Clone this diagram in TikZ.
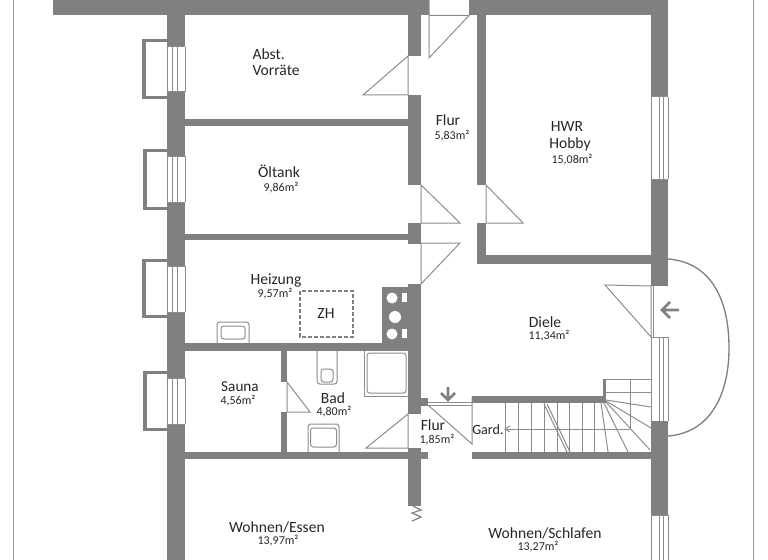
\documentclass[tikz,border=0pt]{standalone}
\usepackage{fontspec}
\setmainfont{Carlito}
\definecolor{wallgray}{HTML}{808080}
\definecolor{linegray}{HTML}{8C8C8C}
\definecolor{framered}{HTML}{C98A8A}
\tikzset{every picture/.style={line width=0.75pt}}
\tikzset{
  wall/.style={fill=wallgray,draw=none},
  thin line/.style={draw=linegray,line width=0.75pt},
  dark line/.style={draw=wallgray,line width=1.6pt},
  room name/.style={font=\fontsize{11.7}{13}\selectfont,text=black!85,inner sep=0pt},
  room area/.style={font=\fontsize{9}{10}\selectfont,text=black!85,inner sep=0pt},
}

\begin{document}
\begin{tikzpicture}[x=0.75pt,y=0.75pt,yscale=-1,xscale=1]
\useasboundingbox (0,0) rectangle (768,560);

%Frame lines
\draw [framered,line width=1pt] (13.5,0) -- (13.5,560) ;
\draw [framered,line width=1pt] (753.5,0) -- (753.5,560) ;

%Shape: outer walls
\fill [wall] (53,0) rectangle (429,15.5) ;
\fill [wall] (469,0) rectangle (668,15.5) ;
\fill [wall] (167,15) rectangle (185,47) ;
\fill [wall] (167,92) rectangle (185,156) ;
\fill [wall] (167,202) rectangle (185,266) ;
\fill [wall] (167,312) rectangle (185,378) ;
\fill [wall] (167,424) rectangle (185,560) ;
\fill [wall] (651,0) rectangle (668,97) ;
\fill [wall] (651,179) rectangle (668,286) ;
\fill [wall] (651,421) rectangle (668,515) ;

%Shape: partitions
\fill [wall] (185,119) rectangle (408,126) ;
\fill [wall] (185,234) rectangle (408,240) ;
\fill [wall] (185,343) rectangle (408,351) ;
\fill [wall] (185,452) rectangle (408,459) ;
\fill [wall] (281,351) rectangle (287,382) ;
\fill [wall] (281,412) rectangle (287,452) ;

%Shape: corridor wall
\fill [wall] (408,15) rectangle (421,56) ;
\fill [wall] (408,95) rectangle (421,185) ;
\fill [wall] (408,223) rectangle (421,244) ;
\fill [wall] (408,284) rectangle (421,414) ;
\fill [wall] (421,398) rectangle (428,406) ;
\fill [wall] (408,448) rectangle (421,506) ;
\fill [wall] (421,452) rectangle (428,459) ;
\draw [dark line,line width=0.9pt] (412,521) -- (421,517) -- (412,513) -- (421,510) -- (413,506) ;

%Shape: HWR walls
\fill [wall] (477,15) rectangle (486,185) ;
\fill [wall] (477,223) rectangle (486,264) ;
\fill [wall] (477,254.5) rectangle (651,264) ;

%Shape: stair walls
\fill [wall] (472,396) rectangle (603,403) ;
\fill [wall] (603,379) rectangle (606,403) ;
\fill [wall] (472,452) rectangle (651,459) ;

%Shape: chimney
\fill [wall] (382,287) rectangle (408,343) ;
\fill [white] (392,298) circle (5.5) ;
\fill [white] (395,317) circle (6) ;
\fill [white] (392,334) circle (5.5) ;
\fill [white] (402,293) rectangle (407,302) ;
\fill [white] (402,329) rectangle (407,338) ;

%Shape: windows left
\draw [dark line,line width=2.6pt] (167,40.5) -- (144,40.5) -- (144,97.5) -- (167,97.5) ;
\draw [thin line] (167,47) -- (185,47) (167,92) -- (185,92) (167,47) -- (167,92) (172,47) -- (172,92) (177,47) -- (177,92) (185,47) -- (185,92) ;
\draw [dark line,line width=2.6pt] (167,150.5) -- (145,150.5) -- (145,208.5) -- (167,208.5) ;
\draw [thin line] (167,156) -- (185,156) (167,202) -- (185,202) (167,156) -- (167,202) (172,156) -- (172,202) (177,156) -- (177,202) (185,156) -- (185,202) ;
\draw [dark line,line width=2.6pt] (167,260.5) -- (144,260.5) -- (144,316.5) -- (167,316.5) ;
\draw [thin line] (167,266) -- (185,266) (167,312) -- (185,312) (167,266) -- (167,312) (172,266) -- (172,312) (177,266) -- (177,312) (185,266) -- (185,312) ;
\draw [dark line,line width=2.6pt] (167,372.5) -- (145,372.5) -- (145,429.5) -- (167,429.5) ;
\draw [thin line] (167,378) -- (185,378) (167,424) -- (185,424) (167,378) -- (167,424) (172,378) -- (172,424) (177,378) -- (177,424) (185,378) -- (185,424) ;

%Shape: windows right
\draw [thin line] (651,97) -- (668,97) (651,179) -- (668,179) (651,97) -- (651,179) (659,97) -- (659,179) (663,97) -- (663,179) (668,97) -- (668,179) ;
\draw [thin line] (651,337) -- (668,337) (651,337) -- (651,421) (659,337) -- (659,421) (663,337) -- (663,421) (668,337) -- (668,421) ;
\draw [thin line] (651,515) -- (668,515) (651,515) -- (651,560) (659,515) -- (659,560) (663,515) -- (663,560) (668,515) -- (668,560) ;

%Shape: doors
\draw [thin line] (429,15.5) -- (469,15.5) -- (429,58) -- (429,0) ;
\draw [thin line] (408,56) -- (363,95) -- (408,95) -- cycle ;
\draw [thin line] (421,185) -- (460,223) -- (421,223) -- cycle ;
\draw [thin line] (421,284) -- (460,243) -- (421,243) -- cycle ;
\draw [thin line] (486,185) -- (523,223) -- (486,223) -- cycle ;
\draw [thin line] (287,382) -- (310,412) -- (287,412) -- cycle ;
\draw [thin line] (408,414) -- (366,448) -- (408,448) -- cycle ;
\draw [thin line] (429,406) -- (472,444) -- (472,397) ;
\draw [thin line] (428,402) -- (472,402) (428,405) -- (472,405) ;
\draw [thin line] (651,286) -- (605,285) -- (651,337) -- cycle ;
\draw [thin line] (653.5,286) -- (653.5,337) ;

%Shape: entrance arc
\draw [wallgray,line width=1pt] (668,259) .. controls (708,262) and (729,295) .. (729,348) .. controls (729,398) and (708,433) .. (668,436) ;

%Shape: arrows
\draw [dark line,line width=2pt] (448,387) -- (448,400) (441,393) -- (448,400) -- (455,393) ;
\draw [dark line,line width=2pt] (679,310) -- (662,310) (670,302) -- (662,310) -- (670,318) ;

%Shape: stairs
\draw [thin line] (505,403) -- (505,452) ;
\draw [thin line] (518,403) -- (518,452) ;
\draw [thin line] (531,403) -- (531,452) ;
\draw [thin line] (544,403) -- (544,452) ;
\draw [thin line] (557,403) -- (557,452) ;
\draw [thin line] (569,403) -- (569,452) ;
\draw [thin line] (582,403) -- (582,452) ;
\draw [thin line] (594,403) -- (594,452) ;
\draw [thin line] (601,403) -- (608,452) ;
\draw [thin line] (604,403) -- (628,452) ;
\draw [thin line] (606,402) -- (650,450) ;
\draw [thin line] (606,401) -- (651,428) ;
\draw [thin line] (606,400) -- (651,407) ;
\draw [thin line] (606,379.5) -- (651,379.5) ;
\draw [thin line] (606,392.5) -- (651,392.5) ;
\draw [thin line] (630,379) -- (630,429) ;
\draw [thin line] (630,429) -- (507,429) ;
\draw [thin line] (510,426) -- (505,429) -- (510,432) ;
\draw [thin line] (544,404) -- (567,452) ;
\draw [thin line] (547,404) -- (570,452) ;

%Shape: Heizung fittings
\draw [wallgray,line width=1pt,dashed,dash pattern=on 3pt off 1.5pt] (300,291) rectangle (353,337) ;
\draw [thin line,rounded corners=2] (217,343) -- (217,322) -- (249,322) -- (249,343) ;
\draw [thin line,rounded corners=2] (221,326) rectangle (245,339) ;

%Shape: Bad fittings
\draw [thin line,rounded corners=2] (317,351) -- (317,384) -- (337,384) -- (337,351) ;
\draw [thin line,rounded corners=2] (321,369) rectangle (333,382) ;
\draw [thin line,rounded corners=2] (308,452) -- (308,424) -- (339,424) -- (339,452) ;
\draw [thin line,rounded corners=2] (310.5,428) rectangle (336.5,447) ;
\draw [thin line] (364,351) -- (364,396) -- (408,396) ;
\draw [thin line,rounded corners=2] (367,353) rectangle (406,393) ;

% Text Node
\node [room name,anchor=west] (abst) at (252,54) {Abst.};
\node [room name,anchor=west] (vorraete) at (252,70) {Vorräte};
\node [room name] (oeltank) at (279,171.5) {Öltank};
\node [room area] (oeltankarea) at (281,187.5) {9,86m²};
\node [room name] (flurtop) at (448,120) {Flur};
\node [room area] (flurtoparea) at (452,136) {5,83m²};
\node [room name] (hwr) at (567,126) {HWR};
\node [room name] (hobby) at (570,144) {Hobby};
\node [room area] (hwrarea) at (572,160) {15,08m²};
\node [room name] (heizung) at (276,280) {Heizung};
\node [room area] (heizungarea) at (275,294) {9,57m²};
\node [room name] (zh) at (326,313) {ZH};
\node [room name,font=\fontsize{11.4}{13}\selectfont] (sauna) at (240,387) {Sauna};
\node [room area] (saunaarea) at (238,401) {4,56m²};
\node [room name] (bad) at (333,398) {Bad};
\node [room area] (badarea) at (334,412) {4,80m²};
\node [room name] (flurlow) at (433,425.5) {Flur};
\node [room area] (flurlowarea) at (437,439.5) {1,85m²};
\node [room name] (diele) at (545,322) {Diele};
\node [room area] (dielearea) at (549,336) {11,34m²};
\node [room name,font=\fontsize{10.6}{12}\selectfont] (gard) at (488,430) {Gard.};
\node [room name] (essen) at (277,527) {Wohnen/Essen};
\node [room area] (essenarea) at (278,541) {13,97m²};
\node [room name] (schlafen) at (545,533) {Wohnen/Schlafen};
\node [room area] (schlafenarea) at (538,547) {13,27m²};

\end{tikzpicture}
\end{document}
